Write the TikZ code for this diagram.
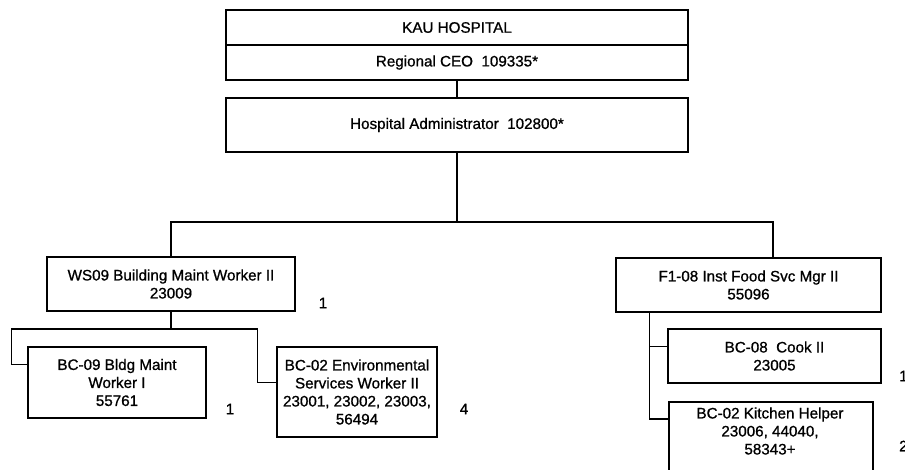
\documentclass[tikz,border=0pt]{standalone}
\usepackage{fontspec}
\setmainfont{Liberation Sans}[FakeBold=0.9]
\begin{document}
\begin{tikzpicture}[x=1pt,y=-1pt,
  box/.style={draw, line width=1.5pt, inner sep=0pt, align=center, font=\fontsize{15.2}{18}\selectfont},
  plain/.style={inner sep=0pt, align=center, font=\fontsize{15.2}{18}\selectfont},
  conn/.style={line width=1.4pt}]
\useasboundingbox (0,0) rectangle (905,470);
\clip (0,0) rectangle (905,470);
% top
\node[box, minimum width=462pt, minimum height=35pt] (kau) at (457,27.5) {KAU HOSPITAL};
\node[box, minimum width=462pt, minimum height=35pt] (ceo) at (457,62.5) {Regional CEO\ \ 109335*};
\node[box, minimum width=462pt, minimum height=54pt] (adm) at (457,125) {Hospital Administrator\ \ 102800*};
% second level
\node[box, minimum width=248pt, minimum height=54pt] (ws) at (171,284) {WS09 Building Maint Worker II\\23009};
\node[box, minimum width=265pt, minimum height=54pt] (fs) at (748.5,285) {F1-08\ Inst Food Svc Mgr II\\55096};
% third level left
\node[box, minimum width=178pt, minimum height=71pt] (bm) at (117,382.5) {BC-09 Bldg Maint\\Worker I\\55761};
\node[box, minimum width=160pt, minimum height=90pt] (env) at (357,392) {BC-02 Environmental\\Services Worker II\\23001, 23002, 23003,\\56494};
% third level right
\node[box, minimum width=213pt, minimum height=54pt] (cook) at (774.5,356) {BC-08\ \ Cook II\\23005};
\node[box, minimum width=204pt, minimum height=80pt, anchor=north west] (kit) at (668,401) {};
\node[plain] (kitt) at (770,431) {BC-02 Kitchen Helper\\23006, 44040,\\58343+};
% count labels
\node[plain] (n1) at (323,303) {1};
\node[plain] (n2) at (230,409) {1};
\node[plain] (n3) at (464,409) {4};
\node[plain, anchor=west] (n4) at (899,376) {1};
\node[plain, anchor=west] (n5) at (899,446) {2};
% connectors
\coordinate (hub) at (457,222);
\coordinate (wsj) at (171,329);
\draw[conn] (ceo.south) -- (adm.north);
\draw[conn] (adm.south) -- (hub) -| (ws.north);
\draw[conn] (hub) -| ([xshift=24.5pt]fs.north);
\draw[conn] (ws.south) -- (wsj) -| ([xshift=-16pt,yshift=-18pt]bm.north west) -- ([yshift=-18pt]bm.north west);
\draw[conn] (wsj) -| ([xshift=-19pt,yshift=-36pt]env.north west) -- ([yshift=-36pt]env.north west);
\draw[conn] ([xshift=34pt]fs.south west) |- ([yshift=-18pt]cook.north west);
\draw[conn] ([xshift=34pt]fs.south west) |- ([yshift=-18pt]kit.north west);
\end{tikzpicture}
\end{document}
